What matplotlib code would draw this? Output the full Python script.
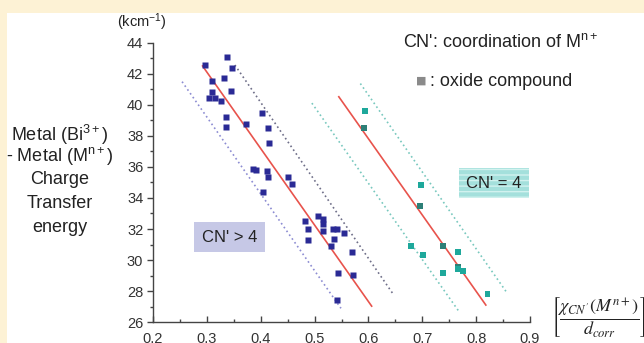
import matplotlib
matplotlib.use('Agg')
import matplotlib.pyplot as plt
from matplotlib.patches import Rectangle
from matplotlib.ticker import MultipleLocator

plt.rcParams['font.family'] = ['Liberation Sans', 'DejaVu Sans']
plt.rcParams['mathtext.fontset'] = 'custom'
plt.rcParams['mathtext.rm'] = 'Liberation Sans'
plt.rcParams['mathtext.it'] = 'Liberation Sans:italic'
plt.rcParams['mathtext.bf'] = 'Liberation Sans:bold'

# ---------------- data ----------------
blue_x = [0.297, 0.338, 0.346, 0.332, 0.310, 0.310, 0.304, 0.315, 0.327, 0.344,
          0.336, 0.336, 0.372, 0.403, 0.414, 0.415, 0.386, 0.391, 0.412, 0.414,
          0.405, 0.451, 0.458, 0.482, 0.488, 0.488, 0.507, 0.516, 0.516, 0.516,
          0.534, 0.541, 0.554, 0.537, 0.530, 0.570, 0.543, 0.571, 0.542]
blue_y = [42.55, 43.05, 42.38, 41.72, 41.54, 40.83, 40.45, 40.45, 40.22, 40.86,
          39.23, 38.54, 38.78, 39.48, 38.52, 37.51, 35.84, 35.78, 35.75, 35.33,
          34.36, 35.35, 34.91, 32.49, 32.00, 31.27, 32.84, 32.62, 32.32, 31.87,
          32.02, 32.02, 31.72, 31.34, 30.89, 30.52, 29.17, 29.02, 27.43]

teal_x = [0.594, 0.591, 0.697, 0.696, 0.679, 0.702, 0.739, 0.766, 0.739, 0.766,
          0.767, 0.776, 0.821]
teal_y = [39.59, 38.52, 34.85, 33.48, 30.92, 30.31, 30.89, 30.52, 29.19, 29.53,
          29.41, 29.31, 27.82]
teal_oxide = [False, True, False, True, False, False, True, False, False, True,
              False, False, False]

fit_blue_x = [0.292, 0.606]
fit_blue_y = [42.49, 27.04]
fit_teal_x = [0.545, 0.818]
fit_teal_y = [40.51, 27.11]
band_blue_lo_x = [0.254, 0.549]
band_blue_lo_y = [41.48, 26.90]
band_blue_hi_x = [0.352, 0.645]
band_blue_hi_y = [42.55, 27.86]
band_teal_lo_x = [0.495, 0.768]
band_teal_lo_y = [40.10, 26.70]
band_teal_hi_x = [0.585, 0.858]
band_teal_hi_y = [41.36, 27.86]

x_ticks = [0.2, 0.3, 0.4, 0.5, 0.6, 0.7, 0.8, 0.9]
x_ticklabels = ['0.2', '0.3', '0.4', '0.5', '0.6', '0.7', '0.8', '0.9']
y_ticks = [26, 28, 30, 32, 34, 36, 38, 40, 42, 44]
y_label_lines = [r'Metal (Bi$^{3+}$)', r'- Metal (M$^{\mathrm{n}+}$)',
                 'Charge', 'Transfer', 'energy']

# ---------------- figure ----------------
W, H = 644, 343
fig = plt.figure(figsize=(W / 100, H / 100), dpi=100)
fig.patch.set_facecolor('#FDF2D5')
bg = Rectangle((7 / W, 0), 1 - 7 / W, 1 - 13 / H, transform=fig.transFigure,
               facecolor='white', edgecolor='none', zorder=-10)
fig.add_artist(bg)


def fx(px):
    return px / W


def fy(py):
    return 1 - py / H


ax = fig.add_axes([fx(153), fy(322.3), fx(530) - fx(153), fy(42.5) - fy(322.3)])
ax.set_zorder(1)
ax.set_facecolor('none')
ax.set_xlim(0.2, 0.9)
ax.set_ylim(26, 44)

for s in ['top', 'right']:
    ax.spines[s].set_visible(False)
for s in ['left', 'bottom']:
    ax.spines[s].set_color('#444444')
    ax.spines[s].set_linewidth(1.0)

ax.set_xticks(x_ticks)
ax.set_xticklabels(x_ticklabels)
ax.set_yticks(y_ticks)
ax.xaxis.set_minor_locator(MultipleLocator(0.05))
ax.yaxis.set_minor_locator(MultipleLocator(1))
ax.tick_params(axis='x', which='major', direction='in', length=4, width=1,
               color='#444444', labelsize=10.5, labelcolor='#333333', pad=7)
ax.tick_params(axis='x', which='minor', direction='in', length=2.5, width=1,
               color='#444444')
ax.tick_params(axis='y', which='major', direction='out', length=4, width=1,
               color='#444444', labelsize=10.5, labelcolor='#333333', pad=3)
ax.tick_params(axis='y', which='minor', direction='out', length=2.5, width=1,
               color='#444444')

# band lines
dot = (0, (1, 1.8))
ax.plot(band_blue_lo_x, band_blue_lo_y, color='#8C8CD2', lw=1.2, ls=dot)
ax.plot(band_blue_hi_x, band_blue_hi_y, color='#6E6E88', lw=1.2, ls=dot)
ax.plot(band_teal_lo_x, band_teal_lo_y, color='#78C8BE', lw=1.2, ls=dot)
ax.plot(band_teal_hi_x, band_teal_hi_y, color='#78C8BE', lw=1.2, ls=dot)

# fit lines
ax.plot(fit_blue_x, fit_blue_y, color='#E8534C', lw=1.2)
ax.plot(fit_teal_x, fit_teal_y, color='#E8534C', lw=1.2)

# points
ax.plot(blue_x, blue_y, ls='none', marker='s', ms=4.2, color='#2A2A95', mec='none')
tc = ['#2D7F77' if o else '#1EA89B' for o in teal_oxide]
ax.scatter(teal_x, teal_y, marker='s', s=18, c=tc, edgecolors='none', zorder=3)

# boxes
ax.text(0.342, 31.48, "CN' > 4", ha='center', va='center', fontsize=12,
        color='#222222',
        bbox=dict(boxstyle='square,pad=0.45', fc='#C6C8E6', ec='none'))
ax.text(0.833, 34.96, "CN' = 4", ha='center', va='center', fontsize=12,
        color='#222222',
        bbox=dict(boxstyle='square,pad=0.45', fc='#A4E0DC', ec='#D2F2EF',
                  lw=0, hatch='---'))

# annotation texts
fig.text(fx(142), fy(22), r'(kcm$^{-1}$)', ha='center', va='center', fontsize=10.5,
         color='#222222')
ys = [135, 157, 180, 203, 227]
for line, yy in zip(y_label_lines, ys):
    fig.text(fx(60), fy(yy), line, ha='center', va='center', fontsize=13,
             color='#222222')

fig.text(fx(501), fy(43), r"CN': coordination of M$^{\mathrm{n}+}$", ha='center',
         va='center', fontsize=13, color='#222222')
fig.text(fx(421), fy(81), '■', ha='center', va='center', fontsize=8,
         color='#8A8A8A', family=['DejaVu Sans'])
fig.text(fx(430), fy(81), ': oxide compound', ha='left', va='center',
         fontsize=13, color='#222222')

fig.text(fx(551), fy(317),
         r'$\left[\dfrac{\chi_{CN^{\prime}}(M^{n+})}{d_{corr}}\right]$',
         ha='left', va='center', fontsize=13, color='#222222',
         math_fontfamily='stix')

fig.savefig('out.png', dpi=100, facecolor=fig.get_facecolor())
